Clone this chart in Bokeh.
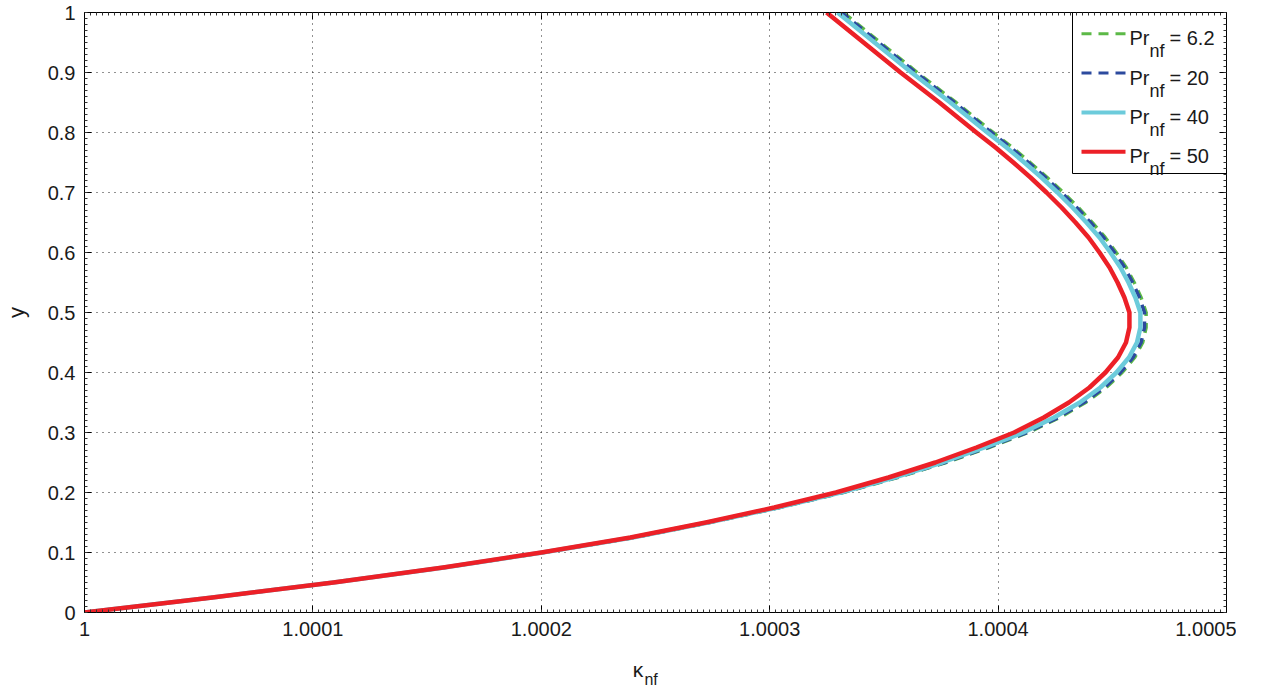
from bokeh.plotting import figure
from bokeh.models import (Range1d, SingleIntervalTicker, FixedTicker, CustomJSTickFormatter,
                          LinearAxis, Grid)
from bokeh.core.properties import value
from bokeh.embed import file_html
from bokeh.resources import INLINE

# ---- data ----
y_vals = [0.0, 0.025, 0.05, 0.075, 0.1, 0.125, 0.15, 0.175, 0.2, 0.225, 0.25, 0.275,
          0.3, 0.325, 0.35, 0.375, 0.4, 0.425, 0.45, 0.475, 0.5, 0.525, 0.55, 0.575,
          0.6, 0.625, 0.65, 0.675, 0.7, 0.725, 0.75, 0.775, 0.8, 0.85, 0.9, 0.95, 1.0]

kappa_pr_6_2 = [1.0, 1.000056, 1.000109, 1.0001578, 1.000201, 1.0002407, 1.0002738, 1.0003045,
                1.0003322, 1.000356, 1.0003772, 1.000396, 1.0004132, 1.000427, 1.0004383,
                1.0004473, 1.0004543, 1.0004598, 1.0004633, 1.0004648, 1.0004648, 1.0004626,
                1.0004596, 1.0004561, 1.0004517, 1.0004469, 1.0004412, 1.0004351, 1.0004285,
                1.0004215, 1.000414, 1.0004062, 1.0003978, 1.0003816, 1.0003646, 1.0003484,
                1.0003322]
kappa_pr_20 = [1.0, 1.000056, 1.000109, 1.0001575, 1.0002008, 1.0002404, 1.0002735, 1.0003041,
               1.0003318, 1.0003555, 1.0003767, 1.0003954, 1.0004126, 1.0004263, 1.0004376,
               1.0004466, 1.0004536, 1.0004591, 1.0004626, 1.0004641, 1.0004641, 1.0004619,
               1.0004589, 1.0004554, 1.000451, 1.0004462, 1.0004405, 1.0004344, 1.0004278,
               1.0004208, 1.0004133, 1.0004055, 1.0003971, 1.0003809, 1.0003639, 1.0003477,
               1.0003315]
kappa_pr_40 = [1.0, 1.000056, 1.000109, 1.0001575, 1.0002005, 1.00024, 1.000273, 1.0003035,
               1.000331, 1.0003545, 1.0003755, 1.000394, 1.000411, 1.0004245, 1.0004358,
               1.0004448, 1.0004518, 1.0004573, 1.0004608, 1.0004623, 1.0004623, 1.0004601,
               1.0004571, 1.0004536, 1.0004492, 1.0004444, 1.0004387, 1.0004326, 1.000426,
               1.000419, 1.0004115, 1.0004037, 1.0003953, 1.0003791, 1.0003621, 1.0003459,
               1.0003297]
kappa_pr_50 = [1.0, 1.000056, 1.000109, 1.000157, 1.0002, 1.000239, 1.000272, 1.000302,
               1.000329, 1.000352, 1.0003725, 1.0003905, 1.000407, 1.00042, 1.000431,
               1.00044, 1.000447, 1.0004525, 1.000456, 1.0004575, 1.0004575, 1.0004553,
               1.0004523, 1.0004488, 1.0004444, 1.0004396, 1.0004339, 1.0004278, 1.0004212,
               1.0004142, 1.0004067, 1.0003989, 1.0003905, 1.0003743, 1.0003573, 1.0003411,
               1.0003249]

series_labels = ["6.2", "20", "40", "50"]
series_colors = ["#5cb947", "#2c4a9e", "#6ccbdb", "#ec2027"]
series_dashes = ["10 7", "10 7", "solid", "solid"]
series_widths = [3.5, 3.5, 4.5, 4.5]

FONT = "Liberation Sans"
TXT = "#1a1a1a"
NB = "\u00a0"

X0, X1, Y0, Y1 = 1.0, 1.0005, 0.0, 1.0
FW, FH = 1142, 600

p = figure(frame_width=FW, frame_height=FH,
           x_range=Range1d(X0, X1), y_range=Range1d(Y0, Y1),
           output_backend="svg", toolbar_location=None,
           min_border_left=79, min_border_right=10, min_border_top=12, min_border_bottom=77,
           x_axis_type=None, y_axis_type=None)
p.background_fill_color = "white"
p.border_fill_color = "white"
p.outline_line_color = "black"
p.outline_line_width = 1

xfmt = CustomJSTickFormatter(code="return tick.toFixed(4).replace(/\\.?0+$/, '');")
yfmt = CustomJSTickFormatter(code="return (Math.round(tick*10)/10).toString();")
empty = CustomJSTickFormatter(code="return '';")


def style_axis(ax):
    ax.axis_line_color = "black"
    ax.major_tick_in = 7
    ax.major_tick_out = 0
    ax.minor_tick_in = 3
    ax.minor_tick_out = 0
    ax.major_tick_line_color = "black"
    ax.minor_tick_line_color = "#333333"
    ax.major_label_text_font = FONT
    ax.major_label_text_font_size = "20px"
    ax.major_label_text_color = TXT
    ax.major_label_standoff = 9
    ax.axis_label_text_font = FONT
    ax.axis_label_text_font_style = "normal"
    ax.axis_label_text_color = TXT


xticker = SingleIntervalTicker(interval=0.0001, num_minor_ticks=38)
yticker = SingleIntervalTicker(interval=0.1, num_minor_ticks=10)

# bottom axis, label "kappa" (subscript added by a second label-only axis)
xb = LinearAxis(ticker=xticker, formatter=xfmt, axis_label="\u03ba" + NB * 6)
style_axis(xb)
xb.axis_label_text_font_size = "21px"
xb.axis_label_standoff = 19
p.add_layout(xb, "below")

xsub = LinearAxis(ticker=FixedTicker(ticks=[]), formatter=empty, axis_label="nf" + NB * 2)
style_axis(xsub)
xsub.axis_line_color = None
xsub.major_tick_in = 0
xsub.minor_tick_in = 0
xsub.major_label_standoff = 0
xsub.axis_label_text_font_size = "16px"
xsub.axis_label_standoff = -13
p.add_layout(xsub, "below")

yl = LinearAxis(ticker=yticker, formatter=yfmt, axis_label="y")
style_axis(yl)
yl.axis_label_text_font_size = "22px"
yl.axis_label_standoff = 16
p.add_layout(yl, "left")

xt = LinearAxis(ticker=xticker, formatter=empty)
style_axis(xt)
xt.major_label_standoff = 0
p.add_layout(xt, "above")
yr = LinearAxis(ticker=yticker, formatter=empty)
style_axis(yr)
yr.major_label_standoff = 0
p.add_layout(yr, "right")

p.add_layout(Grid(dimension=0, ticker=xticker, grid_line_color="#222222",
                  grid_line_dash="1 5", grid_line_width=1))
p.add_layout(Grid(dimension=1, ticker=yticker, grid_line_color="#222222",
                  grid_line_dash="1 5", grid_line_width=1))

all_series = [kappa_pr_6_2, kappa_pr_20, kappa_pr_40, kappa_pr_50]
for xs, col, dash, w in zip(all_series, series_colors, series_dashes, series_widths):
    p.line(xs, y_vals, line_color=col, line_width=w, line_dash=dash, line_join="round")


# ---- legend (box, samples, texts), placed by pixel offsets inside the frame ----
def px_x(px):  # pixel offset from frame left -> data x
    return X0 + (X1 - X0) * px / FW


def px_y(py):  # pixel offset from frame top -> data y
    return Y1 - (Y1 - Y0) * py / FH


LEG_LEFT, LEG_BOTTOM = 988, 161
ROW0, ROW_DY = 21.3, 39.3
p.quad(left=[px_x(LEG_LEFT)], right=[X1], top=[Y1], bottom=[px_y(LEG_BOTTOM)],
       fill_color="white", line_color="black", line_width=1)
rows = [ROW0 + i * ROW_DY for i in range(len(series_labels))]
for r, col, dash, w in zip(rows, series_colors, series_dashes, series_widths):
    p.segment(x0=[px_x(997)], x1=[px_x(1041)], y0=[px_y(r)], y1=[px_y(r)],
              line_color=col, line_width=w - 0.5, line_dash=dash)
p.text(x=[px_x(1045)] * 4, y=[px_y(r + 4.5) for r in rows], text=["Pr"] * 4,
       text_font=value(FONT), text_font_size="20px", text_color=TXT,
       text_baseline="alphabetic", text_align="left")
p.text(x=[px_x(1065)] * 4, y=[px_y(r + 17.5) for r in rows], text=["nf"] * 4,
       text_font=value(FONT), text_font_size="18px", text_color=TXT,
       text_baseline="alphabetic", text_align="left")
p.text(x=[px_x(1085)] * 4, y=[px_y(r + 4.5) for r in rows],
       text=["= " + s for s in series_labels],
       text_font=value(FONT), text_font_size="20px", text_color=TXT,
       text_baseline="alphabetic", text_align="left")

open("out.html", "w").write(file_html(p, INLINE))
